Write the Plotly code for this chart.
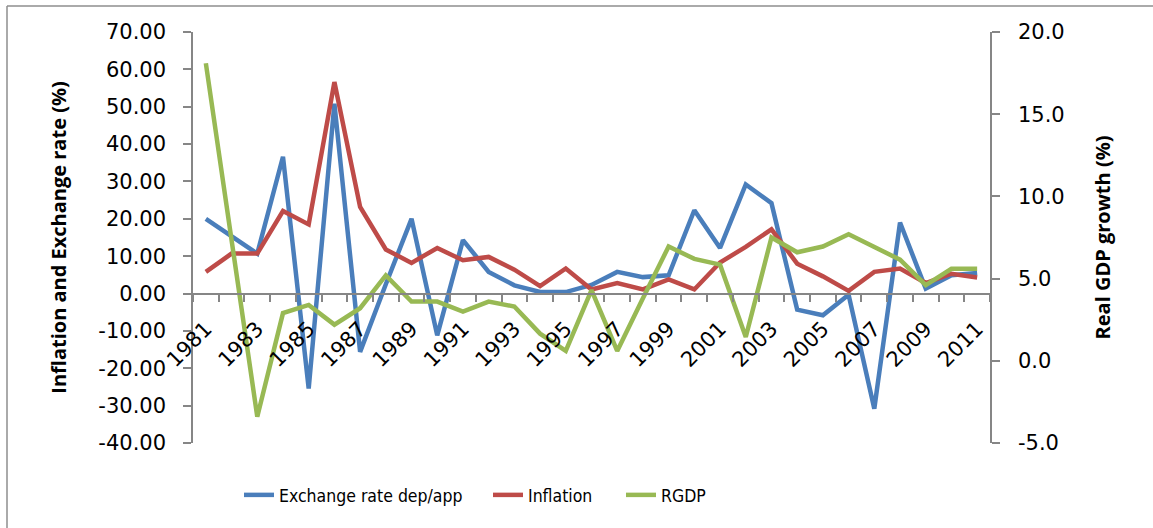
import plotly.graph_objects as go

years = list(range(1981, 2012))
exchange_rate = [20.0, 15.2, 10.7, 36.6, -25.4, 50.8, -15.6, 2.5, 20.0, -11.2, 14.3, 5.8,
                 2.2, 0.4, 0.4, 2.3, 5.8, 4.4, 4.9, 22.3, 12.2, 29.2,
                 24.2, -4.3, -5.8, -0.3, -30.8, 19.0, 1.3, 4.9, 5.5]
inflation = [5.8, 10.7, 10.7, 22.1, 18.5, 56.6, 23.2, 11.8, 8.2, 12.2, 8.9, 9.8,
             6.4, 2.0, 6.7, 1.1, 2.8, 1.1, 3.8, 1.1, 8.3, 12.5,
             17.2, 8.0, 4.6, 0.7, 5.8, 6.7, 2.8, 5.3, 4.3]
rgdp = [18.1, 7.4, -3.4, 2.9, 3.4, 2.2, 3.2, 5.2, 3.6, 3.6, 3.0, 3.6,
        3.3, 1.65, 0.6, 4.3, 0.6, 3.8, 6.95, 6.2, 5.85, 1.45,
        7.5, 6.6, 6.95, 7.7, 6.9, 6.15, 4.6, 5.6, 5.6]

x_tick_years = list(range(1981, 2012, 2))
x_tick_labels = [str(y) for y in x_tick_years]
left_tick_vals = [-40, -30, -20, -10, 0, 10, 20, 30, 40, 50, 60, 70]
left_tick_labels = ["-40.00", "-30.00", "-20.00", "-10.00", "0.00", "10.00",
                    "20.00", "30.00", "40.00", "50.00", "60.00", "70.00"]
right_tick_vals = [-5, 0, 5, 10, 15, 20]
right_tick_labels = ["-5.0", "0.0", "5.0", "10.0", "15.0", "20.0"]

BLUE = "#4A7EBB"
RED = "#BE4B48"
GREEN = "#98B954"
AXIS = "#868686"
TICKFONT = dict(family="DejaVu Sans", size=21, color="black")
TITLEFONT = dict(family="Open Sans", size=20, color="black", weight="bold")
LEGFONT = dict(family="DejaVu Sans Condensed, Liberation Sans Narrow, Roboto", size=17.5,
               color="black")

fig = go.Figure()
fig.add_trace(go.Scatter(x=years, y=exchange_rate, name="Exchange rate dep/app",
                         mode="lines", line=dict(color=BLUE, width=4.5), legend="legend"))
fig.add_trace(go.Scatter(x=years, y=inflation, name="Inflation",
                         mode="lines", line=dict(color=RED, width=4.5), legend="legend2"))
fig.add_trace(go.Scatter(x=years, y=rgdp, name="RGDP", yaxis="y2",
                         mode="lines", line=dict(color=GREEN, width=4.5), legend="legend3"))

L, R, T, B = 193, 163, 32, 85
W, H = 1153, 528
pw = W - L - R
ph = H - T - B

def px_x(p):
    return (p - L) / pw

def px_y(p):
    return (H - B - p) / ph

legend_common = dict(orientation="h", yanchor="middle", xanchor="left",
                     y=px_y(495), font=LEGFONT, bgcolor="rgba(0,0,0,0)")

fig.update_layout(
    width=W, height=H, showlegend=True,
    margin=dict(l=L, r=R, t=T, b=B, autoexpand=False),
    paper_bgcolor="white", plot_bgcolor="white",
    xaxis=dict(range=[1980.5, 2011.5], tickvals=x_tick_years, ticktext=x_tick_labels,
               ticks="", tickangle=-45, tickfont=TICKFONT, showgrid=False, zeroline=False,
               showline=True, linecolor=AXIS, linewidth=1.5,
               anchor="free", position=40 / 110, ticklabelstandoff=14, automargin=False,
               minor=dict(tickvals=[y + 0.5 for y in range(1980, 2012)], ticks="outside",
                          ticklen=8, tickcolor=AXIS, tickwidth=1.5, showgrid=False)),
    yaxis=dict(range=[-40, 70], tickvals=left_tick_vals, ticktext=left_tick_labels,
               ticks="outside", ticklen=8, tickcolor=AXIS, tickwidth=1.5,
               tickfont=TICKFONT, showgrid=False, zeroline=False,
               showline=True, linecolor=AXIS, linewidth=1.5, ticklabelstandoff=13,
               automargin=False,
               title=dict(text="Inflation and Exchange rate (%)", font=TITLEFONT, standoff=26)),
    yaxis2=dict(range=[-5, 20], tickvals=right_tick_vals, ticktext=right_tick_labels,
                overlaying="y", side="right", anchor="x",
                ticks="outside", ticklen=8, tickcolor=AXIS, tickwidth=1.5,
                tickfont=TICKFONT, showgrid=False, zeroline=False,
                showline=True, linecolor=AXIS, linewidth=1.5, ticklabelstandoff=14,
                automargin=False,
                title=dict(text="Real GDP growth (%)", font=TITLEFONT, standoff=32)),
    legend=dict(x=px_x(239), **legend_common),
    legend2=dict(x=px_x(488), **legend_common),
    legend3=dict(x=px_x(621), **legend_common),
    shapes=[
        dict(type="line", xref="paper", yref="paper", x0=px_x(7), x1=px_x(7),
             y0=px_y(6), y1=px_y(540), line=dict(color="#8E8E8E", width=1.5)),
        dict(type="line", xref="paper", yref="paper", x0=px_x(7), x1=px_x(1160),
             y0=px_y(6), y1=px_y(6), line=dict(color="#8E8E8E", width=1.5)),
    ],
)

fig.write_html("out.html", config={"displayModeBar": False},
               post_script="document.body.style.margin='0';")
